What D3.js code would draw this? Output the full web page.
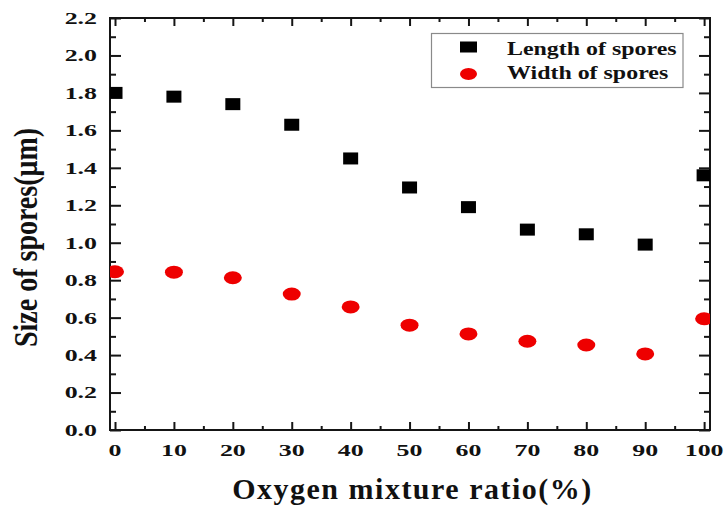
<!DOCTYPE html>
<html>
<head>
<meta charset="utf-8">
<script src="https://cdn.jsdelivr.net/npm/d3@7"></script>
<style>
  html, body { margin: 0; padding: 0; background: #fff; }
  svg { display: block; }
  text { font-family: "Liberation Serif", "Times New Roman", serif; font-weight: bold; fill: #111; }
</style>
</head>
<body>
<svg id="chart" width="725" height="506"></svg>
<script>
// Spore size versus oxygen mixture ratio
const oxygenRatio = [0, 10, 20, 30, 40, 50, 60, 70, 80, 90, 100];
const sporeLength = [1.80, 1.78, 1.74, 1.63, 1.45, 1.295, 1.19, 1.07, 1.045, 0.99, 1.36];
const sporeWidth  = [0.845, 0.843, 0.813, 0.726, 0.657, 0.56, 0.513, 0.474, 0.454, 0.406, 0.594];

const xMajorTicks = [0, 10, 20, 30, 40, 50, 60, 70, 80, 90, 100];
const xMinorTicks = [5, 15, 25, 35, 45, 55, 65, 75, 85, 95];
const yMajorTicks = [0.0, 0.2, 0.4, 0.6, 0.8, 1.0, 1.2, 1.4, 1.6, 1.8, 2.0, 2.2];
const yMinorTicks = [0.1, 0.3, 0.5, 0.7, 0.9, 1.1, 1.3, 1.5, 1.7, 1.9, 2.1];

const seriesNames = ["Length of spores", "Width of spores"];
const xTitle = "Oxygen mixture ratio(%)";
const yTitle = "Size of spores(\u03bcm)";

const svg = d3.select("#chart");
const plotLeft = 110, plotRight = 710, plotTop = 18, plotBottom = 430;

const x = d3.scaleLinear().domain([-0.85, 101]).range([plotLeft, plotRight]);
const y = d3.scaleLinear().domain([0, 2.2]).range([plotBottom, plotTop]);

const ink = "#151515";
const red = "#ee0000";

// clip for markers sitting on the frame
svg.append("defs").append("clipPath").attr("id", "plotClip")
  .append("rect").attr("x", plotLeft).attr("y", plotTop)
  .attr("width", plotRight - plotLeft).attr("height", plotBottom - plotTop);

// ticks on all four sides, pointing inward
function axisTicks(axisGen, vals, size, transform) {
  const g = svg.append("g").attr("transform", transform)
    .call(axisGen.tickValues(vals).tickSizeInner(-size).tickSizeOuter(0).tickFormat(""));
  g.select(".domain").remove();
  g.selectAll(".tick line").attr("stroke", ink).attr("stroke-width", 2);
  return g;
}
axisTicks(d3.axisBottom(x), xMajorTicks, 8, `translate(0,${plotBottom})`);
axisTicks(d3.axisBottom(x), xMinorTicks, 4, `translate(0,${plotBottom})`);
axisTicks(d3.axisTop(x), xMajorTicks, 8, `translate(0,${plotTop})`);
axisTicks(d3.axisTop(x), xMinorTicks, 4, `translate(0,${plotTop})`);
axisTicks(d3.axisLeft(y), yMajorTicks, 11, `translate(${plotLeft},0)`);
axisTicks(d3.axisLeft(y), yMinorTicks, 6, `translate(${plotLeft},0)`);
axisTicks(d3.axisRight(y), yMajorTicks, 11, `translate(${plotRight},0)`);
axisTicks(d3.axisRight(y), yMinorTicks, 6, `translate(${plotRight},0)`);

// frame
svg.append("rect")
  .attr("x", plotLeft).attr("y", plotTop)
  .attr("width", plotRight - plotLeft).attr("height", plotBottom - plotTop)
  .attr("fill", "none").attr("stroke", ink).attr("stroke-width", 2);

// tick labels (wide bold serif)
const labelScale = 1.48;
svg.append("g").selectAll("text").data(xMajorTicks).join("text")
  .attr("transform", d => `translate(${x(d)},456) scale(${labelScale},1)`)
  .attr("text-anchor", "middle")
  .attr("font-size", 17.5)
  .text(d => d);

svg.append("g").selectAll("text").data(yMajorTicks).join("text")
  .attr("transform", d => `translate(97,${y(d)}) scale(${labelScale},1)`)
  .attr("text-anchor", "end")
  .attr("dy", "0.34em")
  .attr("font-size", 17.5)
  .text(d => d.toFixed(1));

// axis titles
svg.append("text")
  .attr("x", 412.5).attr("y", 499)
  .attr("text-anchor", "middle")
  .attr("font-size", 30)
  .attr("letter-spacing", 1.5)
  .text(xTitle);

svg.append("text")
  .attr("transform", `translate(37,237.5) rotate(-90) scale(1,1.19)`)
  .attr("text-anchor", "middle")
  .attr("font-size", 28)
  .text(yTitle);

// markers
const marks = svg.append("g").attr("clip-path", "url(#plotClip)");
const sqW = 15, sqH = 12;
marks.selectAll("rect.len").data(oxygenRatio).join("rect")
  .attr("class", "len")
  .attr("x", (d) => x(d) - sqW / 2)
  .attr("y", (d, i) => y(sporeLength[i]) - sqH / 2)
  .attr("width", sqW).attr("height", sqH)
  .attr("fill", "#000");

marks.selectAll("ellipse.wid").data(oxygenRatio).join("ellipse")
  .attr("class", "wid")
  .attr("cx", d => x(d))
  .attr("cy", (d, i) => y(sporeWidth[i]))
  .attr("rx", 9).attr("ry", 6.5)
  .attr("fill", red);

// legend
const legend = svg.append("g");
legend.append("rect")
  .attr("x", 431.5).attr("y", 33.5)
  .attr("width", 251.5).attr("height", 54)
  .attr("fill", "#fff").attr("stroke", "#8a8a8a").attr("stroke-width", 1.2);
legend.append("rect")
  .attr("x", 460).attr("y", 41.5).attr("width", 17).attr("height", 11)
  .attr("fill", "#000");
legend.append("ellipse")
  .attr("cx", 468.5).attr("cy", 74).attr("rx", 8.5).attr("ry", 6)
  .attr("fill", red);
legend.selectAll("text.item").data(seriesNames).join("text")
  .attr("class", "item")
  .attr("transform", (d, i) => `translate(507,${i === 0 ? 55 : 79}) scale(1.33,1)`)
  .attr("font-size", 18)
  .text(d => d);
</script>
</body>
</html>
